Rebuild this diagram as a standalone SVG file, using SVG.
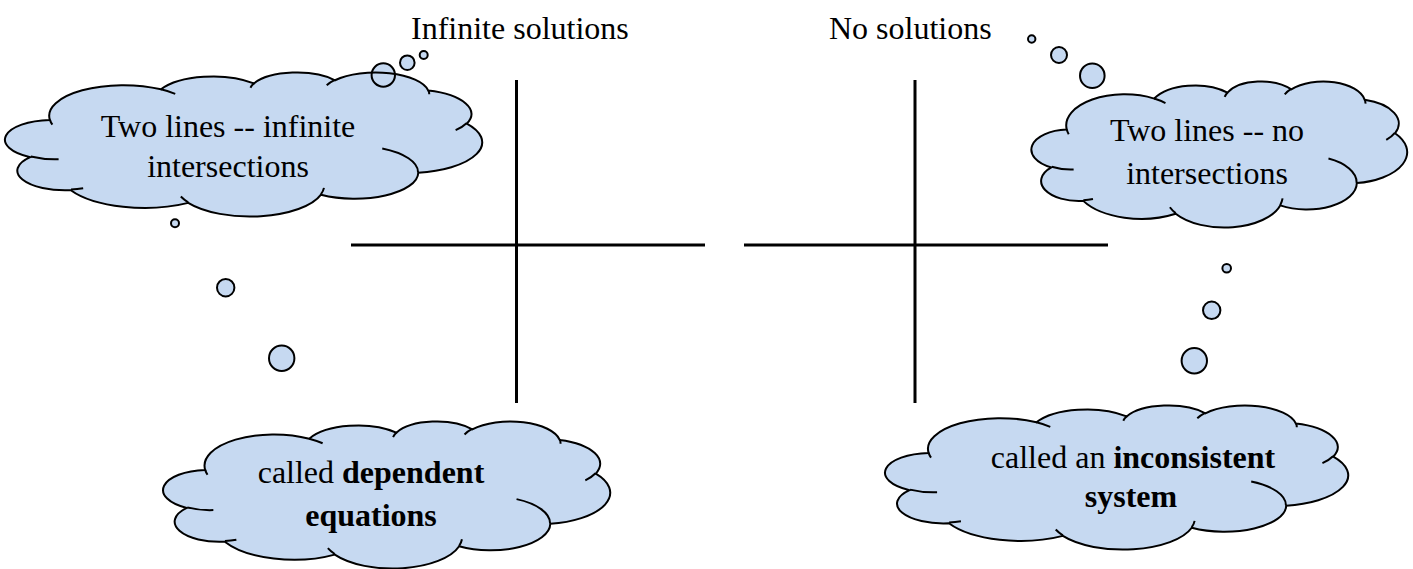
<svg xmlns="http://www.w3.org/2000/svg" xmlns:xlink="http://www.w3.org/1999/xlink" width="1413" height="569" viewBox="0 0 1413 569">
  <style>
    .bg { fill: #ffffff; }
    .fill { fill: #c6d9f1; stroke: none; }
    .line { fill: none; stroke: #000000; stroke-width: 2; }
    .bubble { fill: #c6d9f1; stroke: #000000; stroke-width: 2; }
    .axis { stroke: #000000; stroke-width: 3; fill: none; }
    .txt { font-family: 'Liberation Serif', serif; font-size: 32px; fill: #000000; }
    .title { text-anchor: start; }
    .label { text-anchor: middle; }
    .b { font-weight: bold; }
  </style>
  <defs>
    <!-- cloud outline in a 43200 x 43200 unit frame -->
    <path id="cloud-shape" vector-effect="non-scaling-stroke" d="M3900 14370 A6753 9190 0 0 1 14005 5202 A5333 7267 0 0 1 22457 3434 A4365 5945 0 0 1 29834 2482 A4857 6595 0 0 1 38319 5578 A5333 7273 0 0 1 41819 15462 A6775 9220 0 0 1 37405 30206 A5785 7867 0 0 1 28557 36816 A6752 9215 0 0 1 16482 39268 A7720 10543 0 0 1 5805 35473 A4360 5918 0 0 1 2114 25552 A4345 5945 0 0 1 3900 14370 Z"/>
    <!-- inner crease strokes between the lobes -->
    <path id="cloud-creases" vector-effect="non-scaling-stroke" d="M4693 26177 A4345 5945 0 0 1 2160 25380 M6928 34899 A4360 5918 0 0 1 5820 35280 M16478 39090 A6752 9215 0 0 1 15810 37349 M28827 34751 A6752 9215 0 0 1 28560 36660 M34129 22954 A5785 7867 0 0 1 37381 30090 M41798 15354 A5333 7273 0 0 1 40803 17439 M38324 5426 A4857 6595 0 0 1 38401 6690 M29078 3952 A4857 6595 0 0 1 29820 2341 M22141 4720 A4365 5945 0 0 1 22500 3331 M14000 5192 A6753 9190 0 0 1 15301 6542 M4127 15789 A6753 9190 0 0 1 3901 14371"/>
  </defs>

  <rect class="bg" x="0" y="0" width="1413" height="569"/>

  <!-- headings -->
  <g id="heading-infinite">
    <text class="txt title" x="411" y="39">Infinite solutions</text>
  </g>
  <g id="heading-none">
    <text class="txt title" x="829" y="39">No solutions</text>
  </g>

  <!-- coordinate axes -->
  <g id="connectors">
    <g id="axes-left">
      <line class="axis" x1="516.5" y1="80" x2="516.5" y2="403"/>
      <line class="axis" x1="351" y1="245" x2="705" y2="245"/>
    </g>
    <g id="axes-right">
      <line class="axis" x1="915" y1="80" x2="915" y2="403"/>
      <line class="axis" x1="744" y1="245" x2="1108" y2="245"/>
    </g>
  </g>

  <!-- thought cloud: infinite intersections -->
  <g id="cloud-infinite">
    <use xlink:href="#cloud-shape" class="fill" transform="translate(7 72) scale(0.010995 0.003333)"/>
    <circle class="fill" cx="383.3" cy="75" r="11.7"/>
    <circle class="fill" cx="407.3" cy="62.7" r="7.3"/>
    <circle class="fill" cx="423.7" cy="55" r="4"/>
    <use xlink:href="#cloud-shape" class="line" transform="translate(7 72) scale(0.010995 0.003333)"/>
    <use xlink:href="#cloud-creases" class="line" transform="translate(7 72) scale(0.010995 0.003333)"/>
    <circle class="line" cx="383.3" cy="75" r="11.7"/>
    <circle class="line" cx="407.3" cy="62.7" r="7.3"/>
    <circle class="line" cx="423.7" cy="55" r="4"/>
    <text class="txt label" x="228" y="137">Two lines -- infinite</text>
    <text class="txt label" x="228" y="177">intersections</text>
  </g>

  <!-- thought cloud: dependent equations -->
  <g id="cloud-dependent">
    <circle class="bubble" cx="175" cy="223.3" r="4"/>
    <circle class="bubble" cx="225.7" cy="287.7" r="8.7"/>
    <circle class="bubble" cx="281.7" cy="358.3" r="12.7"/>
    <use xlink:href="#cloud-shape" class="fill" transform="translate(165 421) scale(0.0103009 0.0034028)"/>
    <use xlink:href="#cloud-shape" class="line" transform="translate(165 421) scale(0.0103009 0.0034028)"/>
    <use xlink:href="#cloud-creases" class="line" transform="translate(165 421) scale(0.0103009 0.0034028)"/>
    <text class="txt label" x="371" y="483">called <tspan class="b">dependent</tspan></text>
    <text class="txt label b" x="371" y="526">equations</text>
  </g>

  <!-- thought cloud: no intersections -->
  <g id="cloud-none">
    <circle class="bubble" cx="1031.7" cy="39" r="3.7"/>
    <circle class="bubble" cx="1059" cy="55" r="8"/>
    <circle class="bubble" cx="1092.3" cy="75.7" r="12.3"/>
    <use xlink:href="#cloud-shape" class="fill" transform="translate(1033 81) scale(0.0086574 0.0033796)"/>
    <use xlink:href="#cloud-shape" class="line" transform="translate(1033 81) scale(0.0086574 0.0033796)"/>
    <use xlink:href="#cloud-creases" class="line" transform="translate(1033 81) scale(0.0086574 0.0033796)"/>
    <text class="txt label" x="1207" y="141">Two lines -- no</text>
    <text class="txt label" x="1207" y="184">intersections</text>
  </g>

  <!-- thought cloud: inconsistent system -->
  <g id="cloud-inconsistent">
    <circle class="bubble" cx="1226.7" cy="268.3" r="4.3"/>
    <circle class="bubble" cx="1211.7" cy="310.3" r="8.7"/>
    <circle class="bubble" cx="1194.3" cy="360.7" r="12.7"/>
    <use xlink:href="#cloud-shape" class="fill" transform="translate(887 405) scale(0.0106713 0.0033333)"/>
    <use xlink:href="#cloud-shape" class="line" transform="translate(887 405) scale(0.0106713 0.0033333)"/>
    <use xlink:href="#cloud-creases" class="line" transform="translate(887 405) scale(0.0106713 0.0033333)"/>
    <text class="txt label" x="1133" y="468">called an <tspan class="b">inconsistent</tspan></text>
    <text class="txt label b" x="1131" y="507">system</text>
  </g>
</svg>
